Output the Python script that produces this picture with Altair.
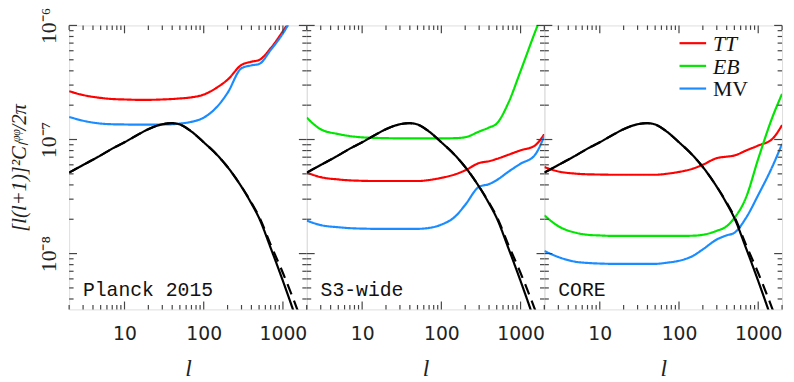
import altair as alt
import pandas as pd

# ---------------- data ----------------
ELL = [2, 3, 5, 7, 10, 15, 20, 30, 40, 50, 70, 100, 150, 200, 300, 400, 500, 700, 1000, 1500, 2000]

PHI_LINEAR = [5.13e-8, 5.98e-8, 7.26e-8, 8.32e-8, 9.46e-8, 1.109e-7, 1.233e-7, 1.361e-7, 1.390e-7, 1.355e-7,
              1.175e-7, 9.46e-8, 7.24e-8, 5.74e-8, 3.85e-8, 2.75e-8, 2.05e-8, 1.122e-8, 5.75e-9, 2.57e-9, 1.41e-9]
PHI_NONLINEAR = [5.13e-8, 5.98e-8, 7.26e-8, 8.32e-8, 9.46e-8, 1.109e-7, 1.233e-7, 1.361e-7, 1.390e-7, 1.355e-7,
                 1.175e-7, 9.46e-8, 7.24e-8, 5.74e-8, 3.86e-8, 2.80e-8, 2.11e-8, 1.20e-8, 6.76e-9, 3.31e-9, 1.91e-9]

PLANCK_TT = [2.65e-7, 2.455e-7, 2.317e-7, 2.265e-7, 2.244e-7, 2.228e-7, 2.228e-7, 2.244e-7, 2.265e-7, 2.291e-7,
             2.344e-7, 2.477e-7, 2.884e-7, 3.342e-7, 4.508e-7, 4.808e-7, 4.977e-7, 6.31e-7, 8.9e-7, 1.4e-6, 2.2e-6]
PLANCK_MV = [1.578e-7, 1.462e-7, 1.380e-7, 1.361e-7, 1.355e-7, 1.349e-7, 1.349e-7, 1.352e-7, 1.361e-7, 1.380e-7,
             1.429e-7, 1.556e-7, 1.963e-7, 2.564e-7, 4.217e-7, 4.467e-7, 4.592e-7, 6.081e-7, 8.51e-7, 1.41e-6, 2.24e-6]

S3_TT = [5.13e-8, 4.68e-8, 4.467e-8, 4.385e-8, 4.345e-8, 4.325e-8, 4.325e-8, 4.325e-8, 4.325e-8, 4.325e-8,
         4.416e-8, 4.613e-8, 4.955e-8, 5.370e-8, 6.223e-8, 6.457e-8, 6.761e-8, 7.345e-8, 8.04e-8, 8.81e-8, 1.117e-7]
S3_EB = [1.556e-7, 1.230e-7, 1.117e-7, 1.072e-7, 1.045e-7, 1.033e-7, 1.028e-7, 1.023e-7, 1.023e-7, 1.023e-7,
         1.023e-7, 1.023e-7, 1.028e-7, 1.047e-7, 1.175e-7, 1.274e-7, 1.380e-7, 2.089e-7, 3.981e-7, 8.51e-7, 1.413e-6]
S3_MV = [1.945e-8, 1.778e-8, 1.702e-8, 1.671e-8, 1.656e-8, 1.648e-8, 1.648e-8, 1.648e-8, 1.648e-8, 1.648e-8,
         1.679e-8, 1.795e-8, 2.118e-8, 2.673e-8, 3.855e-8, 4.064e-8, 4.406e-8, 5.212e-8, 6.138e-8, 7.244e-8, 1.079e-7]

CORE_TT = [5.74e-8, 5.248e-8, 5.023e-8, 4.955e-8, 4.932e-8, 4.909e-8, 4.909e-8, 4.909e-8, 4.909e-8, 4.909e-8,
           5.012e-8, 5.200e-8, 5.559e-8, 6.012e-8, 6.871e-8, 7.079e-8, 7.244e-8, 7.998e-8, 8.851e-8, 1.009e-7, 1.337e-7]
CORE_EB = [2.163e-8, 1.738e-8, 1.521e-8, 1.462e-8, 1.442e-8, 1.429e-8, 1.429e-8, 1.429e-8, 1.429e-8, 1.429e-8,
           1.429e-8, 1.429e-8, 1.435e-8, 1.462e-8, 1.585e-8, 1.738e-8, 2.051e-8, 3.09e-8, 6.76e-8, 1.549e-7, 2.512e-7]
CORE_MV = [1.054e-8, 9.33e-9, 8.47e-9, 8.28e-9, 8.18e-9, 8.13e-9, 8.13e-9, 8.13e-9, 8.13e-9, 8.13e-9,
           8.32e-9, 8.65e-9, 9.55e-9, 1.089e-8, 1.330e-8, 1.445e-8, 1.521e-8, 2.051e-8, 3.258e-8, 5.74e-8, 9.14e-8]

PANEL_NAMES = ["Planck 2015", "S3-wide", "CORE"]
PANEL_NOISE = [
    {"TT": PLANCK_TT, "MV": PLANCK_MV},
    {"TT": S3_TT, "EB": S3_EB, "MV": S3_MV},
    {"TT": CORE_TT, "EB": CORE_EB, "MV": CORE_MV},
]

SERIES = ["TT", "EB", "MV"]
SERIES_COLORS = ["#ff0000", "#00e600", "#1a8cff"]

X_MAJOR = [10, 100, 1000]
X_MINOR = [2, 3, 4, 5, 6, 7, 8, 9, 20, 30, 40, 50, 60, 70, 80, 90,
           200, 300, 400, 500, 600, 700, 800, 900, 2000]
Y_MAJOR = [1e-8, 1e-7, 1e-6]
Y_MINOR = [4e-9, 5e-9, 6e-9, 7e-9, 8e-9, 9e-9,
           2e-8, 3e-8, 4e-8, 5e-8, 6e-8, 7e-8, 8e-8, 9e-8,
           2e-7, 3e-7, 4e-7, 5e-7, 6e-7, 7e-7, 8e-7, 9e-7]

# ---------------- layout / style ----------------
W, H = 241, 288
X_DOMAIN = [2, 2000]
Y_DOMAIN = [3.24e-9, 1e-6]
FRAME = "#444444"
SERIF = "Liberation Serif"
MAJ, MIN = 8, 4.5

CURVE_DOMAIN = SERIES + ["lin", "nl"]
CURVE_COLORS = SERIES_COLORS + ["#000000", "#000000"]
CURVE_DASH = [[1, 0], [1, 0], [1, 0], [1, 0], [11, 7]]

xs = alt.Scale(type="log", domain=X_DOMAIN, nice=False)
ys = alt.Scale(type="log", domain=Y_DOMAIN, nice=False)

Y_LABEL_EXPR = ("'10' + (round(log(datum.value)/LN10) == -6 ? '\u207b\u2076' : "
                "round(log(datum.value)/LN10) == -7 ? '\u207b\u2077' : '\u207b\u2078')")


def panel_frame(i):
    rows = []
    noise = PANEL_NOISE[i]
    for s in SERIES:
        if s in noise:
            for l, v in zip(ELL, noise[s]):
                rows.append({"l": l, "val": v, "curve": s})
    for l, v in zip(ELL, PHI_NONLINEAR):
        rows.append({"l": l, "val": v, "curve": "nl"})
    for l, v in zip(ELL, PHI_LINEAR):
        rows.append({"l": l, "val": v, "curve": "lin"})
    return pd.DataFrame(rows)


def make_panel(i):
    x_axis = alt.Axis(values=X_MAJOR, format="d", ticks=False, domain=False, grid=False,
                      labelFont="DejaVu Sans", labelFontSize=19, labelColor="#222222",
                      labelPadding=16, labelFlush=False, labelOverlap=False,
                      title="l", titleFont=SERIF, titleFontStyle="italic", titleFontWeight="normal",
                      titleFontSize=24, titleColor="#222222", titlePadding=13)
    if i == 0:
        y_axis = alt.Axis(values=Y_MAJOR, labelExpr=Y_LABEL_EXPR, ticks=False, domain=False, grid=False,
                          labelAngle=270, labelAlign="center", labelBaseline="bottom",
                          labelFont=SERIF, labelFontSize=22, labelColor="#222222", labelPadding=9,
                          labelFlush=False, labelOverlap=False,
                          title="[l(l+1)]\u00b2C\u2097\u1d60\u1d60/2\u03c0", titleFont=SERIF,
                          titleFontStyle="italic", titleFontWeight="normal", titleFontSize=21,
                          titleColor="#222222", titlePadding=8)
    else:
        y_axis = None

    df = panel_frame(i)
    lines = alt.Chart(df).mark_line(clip=True, strokeWidth=2.2, interpolate="monotone").encode(
        x=alt.X("l:Q", scale=xs, axis=x_axis),
        y=alt.Y("val:Q", scale=ys, axis=y_axis),
        color=alt.Color("curve:N", scale=alt.Scale(domain=CURVE_DOMAIN, range=CURVE_COLORS), legend=None),
        strokeDash=alt.StrokeDash("curve:N", scale=alt.Scale(domain=CURVE_DOMAIN, range=CURVE_DASH), legend=None),
        order=alt.Order("l:Q"),
    )

    layers = [lines]

    xt_maj = pd.DataFrame({"v": X_MAJOR})
    xt_min = pd.DataFrame({"v": X_MINOR})
    yt_maj = pd.DataFrame({"v": Y_MAJOR})
    yt_min = pd.DataFrame({"v": Y_MINOR})
    for data, size in [(xt_maj, MAJ), (xt_min, MIN)]:
        layers.append(alt.Chart(data).mark_rule(color=FRAME, strokeWidth=1.2).encode(
            x=alt.X("v:Q", scale=xs, axis=None), y=alt.value(H), y2=alt.value(H - size)))
        layers.append(alt.Chart(data).mark_rule(color=FRAME, strokeWidth=1.2).encode(
            x=alt.X("v:Q", scale=xs, axis=None), y=alt.value(0), y2=alt.value(size)))
    for data, size in [(yt_maj, MAJ), (yt_min, MIN)]:
        layers.append(alt.Chart(data).mark_rule(color=FRAME, strokeWidth=1.2).encode(
            y=alt.Y("v:Q", scale=ys, axis=None), x=alt.value(0), x2=alt.value(size)))
        layers.append(alt.Chart(data).mark_rule(color=FRAME, strokeWidth=1.2).encode(
            y=alt.Y("v:Q", scale=ys, axis=None), x=alt.value(W), x2=alt.value(W - size)))

    layers.append(alt.Chart(pd.DataFrame({"name": [PANEL_NAMES[i]]})).mark_text(
        align="left", baseline="alphabetic", font="Liberation Mono", fontSize=20, color="#111111"
    ).encode(text="name:N", x=alt.value(14), y=alt.value(274)))

    if i == 2:
        leg_y = [18, 41, 64]
        for s, c, yy in zip(SERIES, SERIES_COLORS, leg_y):
            layers.append(alt.Chart(pd.DataFrame({"s": [s]})).mark_rule(color=c, strokeWidth=2.2).encode(
                x=alt.value(137), x2=alt.value(164), y=alt.value(yy)))
            layers.append(alt.Chart(pd.DataFrame({"s": [s]})).mark_text(
                align="left", baseline="middle", font=SERIF, fontSize=22, color="#111111",
                fontStyle=("normal" if s == "MV" else "italic")
            ).encode(text="s:N", x=alt.value(171), y=alt.value(yy + 1)))

    return alt.layer(*layers).resolve_axis(x="independent", y="independent").properties(width=W, height=H)


chart = alt.hconcat(*[make_panel(i) for i in range(3)], spacing=0, bounds="flush").properties(
    padding={"left": 0, "top": -4, "right": 2, "bottom": 4}
).configure_view(stroke=FRAME, strokeWidth=1.5).configure(background="white")

chart.save("out.html", embed_options={"renderer": "svg", "actions": False})
